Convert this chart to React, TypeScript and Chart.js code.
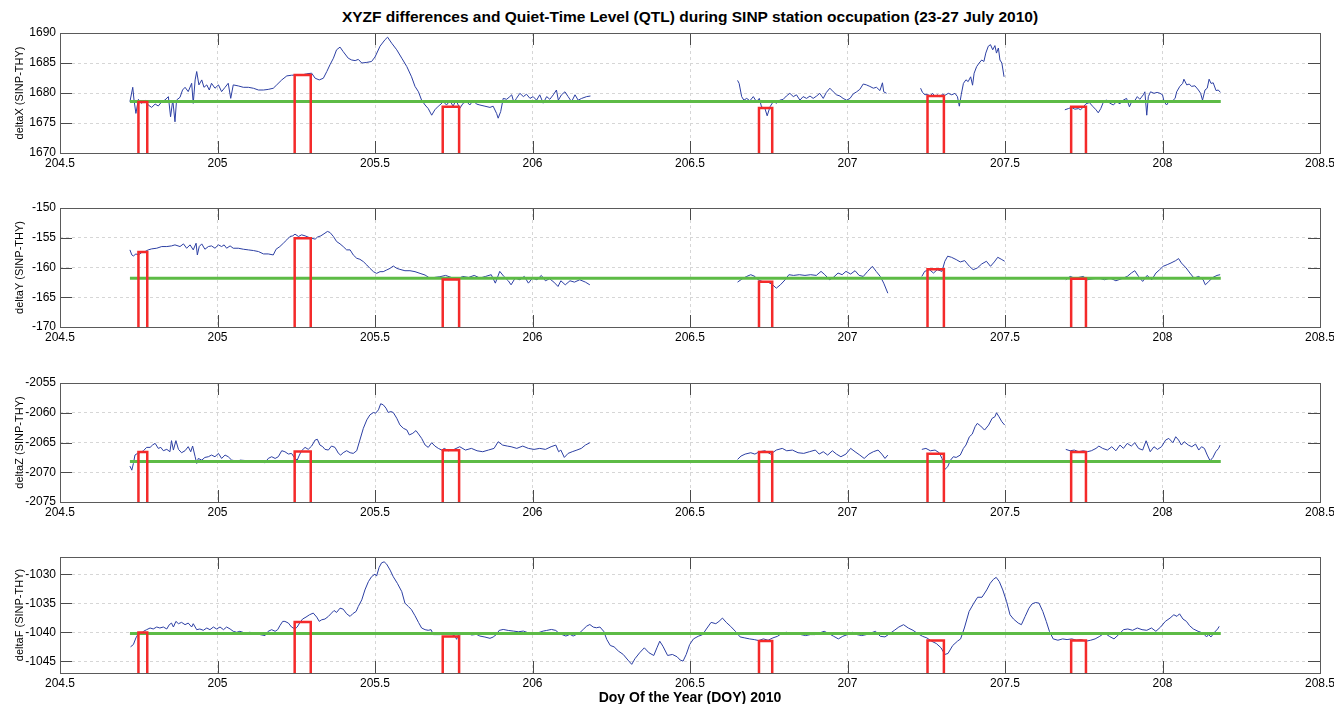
import React, { useEffect, useRef } from 'react';
import { Chart, registerables } from 'chart.js';

Chart.register(...registerables);

const FONT = 'Arial, "Liberation Sans", Helvetica, sans-serif';

// ---- axis ticks ----
const xTicks = [204.5, 205, 205.5, 206, 206.5, 207, 207.5, 208, 208.5];
const yTicksX = [1670, 1675, 1680, 1685, 1690];
const yTicksY = [-170, -165, -160, -155, -150];
const yTicksZ = [-2075, -2070, -2065, -2060, -2055];
const yTicksF = [-1045, -1040, -1035, -1030];

// ---- QTL windows (red pulses) ----
const pulseStart = [204.749, 205.245, 205.715, 206.719, 207.254, 207.71];
const pulseEnd = [204.777, 205.296, 205.767, 206.761, 207.306, 207.757];
const pulseLevelX = [1678.5, 1683.0, 1677.7, 1677.5, 1679.5, 1677.7];
const pulseLevelY = [-157.4, -155.1, -162.0, -162.4, -160.3, -161.9];
const pulseLevelZ = [-2066.6, -2066.5, -2066.3, -2066.6, -2066.9, -2066.6];
const pulseLevelF = [-1040.0, -1038.2, -1040.7, -1041.5, -1041.4, -1041.4];

// ---- Quiet-Time Level (green) ----
const qtlSpan = [204.722, 208.185];
const qtlX = 1678.6;
const qtlY = -161.8;
const qtlZ = -2068.2;
const qtlF = -1040.2;

// ---- differences SINP-THY: [DOY, value]; [DOY, null] = data gap ----
const deltaX = [
  [204.722, 1678.55], [204.731, 1680.95], [204.735, 1678.83], [204.741, 1676.6], [204.749, 1678.94],
  [204.759, 1678.27], [204.77, 1678.83], [204.78, 1678.0], [204.791, 1677.6], [204.802, 1678.16],
  [204.812, 1677.83], [204.823, 1678.55], [204.833, 1678.83], [204.844, 1679.39], [204.851, 1676.04],
  [204.858, 1678.83], [204.865, 1675.2], [204.87, 1678.83], [204.881, 1679.28], [204.889, 1680.5],
  [204.897, 1680.95], [204.907, 1680.23], [204.918, 1681.62], [204.923, 1678.27], [204.929, 1682.18],
  [204.934, 1683.58], [204.941, 1681.35], [204.95, 1682.18], [204.957, 1680.95], [204.966, 1681.35],
  [204.974, 1680.5], [204.981, 1681.62], [204.992, 1680.79], [205.003, 1681.35], [205.013, 1680.23],
  [205.024, 1680.95], [205.034, 1681.62], [205.042, 1679.11], [205.05, 1681.35], [205.066, 1681.18],
  [205.082, 1680.95], [205.098, 1680.95], [205.114, 1680.79], [205.13, 1680.5], [205.146, 1680.5],
  [205.161, 1680.6], [205.177, 1680.79], [205.188, 1681.35], [205.204, 1682.18], [205.22, 1682.85],
  [205.235, 1682.96], [205.251, 1683.0], [205.267, 1683.0], [205.283, 1683.2], [205.299, 1683.3],
  [205.31, 1682.46], [205.323, 1682.18], [205.336, 1682.46], [205.347, 1683.58], [205.357, 1684.7],
  [205.368, 1685.8], [205.378, 1687.2], [205.389, 1687.65], [205.399, 1686.9], [205.415, 1685.8],
  [205.426, 1685.5], [205.437, 1685.4], [205.447, 1685.6], [205.458, 1685.0], [205.474, 1685.1],
  [205.489, 1685.25], [205.5, 1686.0], [205.516, 1687.8], [205.532, 1688.9], [205.54, 1689.3],
  [205.553, 1688.3], [205.569, 1687.2], [205.585, 1685.8], [205.601, 1684.4], [205.616, 1682.7],
  [205.627, 1681.1], [205.638, 1680.2], [205.648, 1678.8], [205.659, 1678.0], [205.669, 1677.4],
  [205.68, 1676.3], [205.69, 1677.2], [205.701, 1677.8], [205.706, 1678.0], [205.717, 1678.55],
  [205.727, 1678.0], [205.738, 1678.7], [205.748, 1677.8], [205.757, 1678.8], [205.769, 1677.44],
  [205.78, 1678.3], [205.791, 1678.55], [205.801, 1678.0], [205.812, 1678.8], [205.822, 1678.16],
  [205.833, 1678.0], [205.849, 1677.8], [205.865, 1677.6], [205.875, 1677.8], [205.886, 1676.6],
  [205.891, 1675.8], [205.899, 1676.9], [205.907, 1679.1], [205.918, 1678.95], [205.928, 1679.4],
  [205.934, 1679.7], [205.941, 1678.4], [205.949, 1679.1], [205.96, 1679.95], [205.971, 1679.4],
  [205.981, 1679.8], [205.992, 1679.1], [206.002, 1679.4], [206.013, 1678.8], [206.023, 1679.7],
  [206.034, 1678.3], [206.045, 1679.4], [206.055, 1678.95], [206.066, 1679.7], [206.076, 1680.5],
  [206.082, 1678.8], [206.092, 1679.7], [206.103, 1680.2], [206.113, 1679.4], [206.124, 1678.55],
  [206.135, 1679.7], [206.145, 1678.8], [206.156, 1679.1], [206.172, 1679.4], [206.184, 1679.5],
  [206.4, null],
  [206.651, 1682.1], [206.656, 1681.6], [206.664, 1679.4], [206.671, 1678.8], [206.68, 1679.1],
  [206.69, 1678.7], [206.701, 1679.4], [206.711, 1678.55], [206.72, 1679.1], [206.727, 1677.7],
  [206.738, 1677.4], [206.745, 1676.2], [206.754, 1677.7], [206.764, 1678.55], [206.775, 1678.3],
  [206.785, 1678.8], [206.796, 1678.95], [206.806, 1679.5], [206.817, 1679.95], [206.828, 1679.4],
  [206.838, 1679.7], [206.849, 1678.8], [206.859, 1679.4], [206.87, 1679.1], [206.881, 1679.5],
  [206.891, 1679.1], [206.902, 1679.5], [206.912, 1679.95], [206.923, 1679.1], [206.933, 1680.1],
  [206.944, 1680.8], [206.955, 1680.2], [206.965, 1679.7], [206.976, 1679.5], [206.986, 1679.1],
  [206.997, 1678.8], [207.008, 1679.1], [207.018, 1679.84], [207.029, 1680.2], [207.039, 1680.6],
  [207.05, 1681.5], [207.06, 1681.35], [207.071, 1681.1], [207.082, 1680.8], [207.092, 1680.95],
  [207.103, 1680.4], [207.111, 1681.7], [207.115, 1680.2], [207.124, 1679.95],
  [207.18, null],
  [207.232, 1680.8], [207.238, 1680.1], [207.246, 1679.7], [207.253, 1679.8], [207.262, 1679.5],
  [207.27, 1679.95], [207.278, 1679.4], [207.285, 1679.7], [207.293, 1679.4], [207.302, 1679.8],
  [207.309, 1679.6], [207.32, 1679.95], [207.331, 1679.7], [207.341, 1679.95], [207.349, 1679.4],
  [207.355, 1677.8], [207.361, 1679.7], [207.368, 1681.6], [207.376, 1682.2], [207.383, 1681.9],
  [207.391, 1682.7], [207.397, 1681.3], [207.402, 1683.3], [207.41, 1684.4], [207.418, 1685.0],
  [207.426, 1685.5], [207.433, 1685.25], [207.439, 1686.65], [207.447, 1687.8], [207.454, 1688.05],
  [207.461, 1687.2], [207.468, 1687.9], [207.473, 1686.65], [207.479, 1687.5], [207.484, 1685.5],
  [207.49, 1685.0], [207.497, 1682.7],
  [207.6, null],
  [207.69, 1677.2], [207.701, 1677.4], [207.711, 1677.6], [207.722, 1677.3], [207.733, 1677.4],
  [207.74, 1677.2], [207.749, 1677.7], [207.757, 1678.2], [207.768, 1678.4], [207.778, 1677.8],
  [207.789, 1677.2], [207.796, 1676.7], [207.804, 1677.4], [207.814, 1678.7], [207.823, 1678.8],
  [207.833, 1678.3], [207.844, 1678.0], [207.854, 1678.55], [207.865, 1678.2], [207.875, 1678.8],
  [207.886, 1679.1], [207.895, 1677.7], [207.902, 1678.55], [207.913, 1678.8], [207.92, 1679.4],
  [207.928, 1678.95], [207.939, 1679.7], [207.944, 1680.2], [207.95, 1676.3], [207.955, 1679.4],
  [207.962, 1680.2], [207.973, 1679.95], [207.983, 1680.1], [207.992, 1679.95], [208.0, 1679.7],
  [208.005, 1678.55], [208.013, 1678.0], [208.022, 1678.7], [208.029, 1678.55], [208.04, 1679.1],
  [208.045, 1680.2], [208.055, 1681.1], [208.064, 1681.6], [208.068, 1682.3], [208.077, 1681.35],
  [208.085, 1681.5], [208.092, 1681.1], [208.103, 1681.2], [208.114, 1680.5], [208.121, 1679.95],
  [208.127, 1678.8], [208.135, 1680.5], [208.142, 1680.8], [208.148, 1682.3], [208.154, 1681.6],
  [208.161, 1681.7], [208.17, 1680.4], [208.177, 1680.5], [208.184, 1680.1],
];

const deltaY = [
  [204.722, -157.04], [204.728, -157.89], [204.733, -158.06], [204.741, -157.72], [204.749, -157.89],
  [204.759, -157.49], [204.77, -157.32], [204.78, -157.04], [204.791, -156.87], [204.807, -156.76],
  [204.823, -156.48], [204.839, -156.48], [204.854, -156.37], [204.865, -156.2], [204.881, -156.48],
  [204.892, -156.03], [204.902, -156.76], [204.913, -156.2], [204.923, -157.04], [204.932, -155.92],
  [204.936, -157.89], [204.942, -156.48], [204.95, -156.03], [204.96, -156.93], [204.971, -156.48],
  [204.981, -156.37], [204.992, -156.76], [205.003, -156.2], [205.013, -156.48], [205.021, -156.2],
  [205.029, -156.76], [205.04, -156.37], [205.05, -156.76], [205.066, -156.76], [205.082, -156.93],
  [205.098, -157.04], [205.114, -157.15], [205.13, -157.32], [205.146, -157.72], [205.161, -157.72],
  [205.177, -157.89], [205.186, -156.93], [205.198, -156.48], [205.209, -155.92], [205.22, -155.35],
  [205.23, -154.79], [205.239, -154.68], [205.246, -154.39], [205.257, -154.79], [205.267, -154.51],
  [205.278, -154.68], [205.288, -154.9], [205.299, -155.07], [205.31, -155.24], [205.317, -154.9],
  [205.328, -154.68], [205.338, -154.34], [205.349, -153.94], [205.357, -154.11], [205.368, -154.79],
  [205.378, -155.63], [205.389, -156.03], [205.399, -156.48], [205.41, -157.04], [205.421, -157.04],
  [205.431, -157.89], [205.442, -158.45], [205.452, -158.62], [205.463, -159.01], [205.474, -159.58],
  [205.484, -160.14], [205.495, -160.7], [205.505, -160.99], [205.516, -160.7], [205.526, -160.7],
  [205.537, -160.42], [205.548, -160.14], [205.558, -159.75], [205.569, -160.14], [205.579, -160.31],
  [205.595, -160.54], [205.611, -160.54], [205.627, -160.7], [205.643, -160.99], [205.659, -161.27],
  [205.675, -161.83], [205.69, -161.66], [205.706, -161.55], [205.724, -161.33], [205.742, -161.67],
  [205.76, -162.06], [205.778, -161.5], [205.797, -161.67], [205.815, -161.33], [205.833, -161.78],
  [205.851, -161.5], [205.869, -161.21], [205.882, -162.63], [205.896, -160.65], [205.909, -161.5],
  [205.923, -162.23], [205.932, -162.91], [205.945, -161.78], [205.96, -162.06], [205.974, -161.5],
  [205.987, -162.63], [206.0, -161.78], [206.014, -162.06], [206.028, -161.33], [206.041, -162.23],
  [206.054, -161.89], [206.068, -162.46], [206.081, -163.19], [206.09, -162.23], [206.104, -162.91],
  [206.119, -162.23], [206.133, -162.46], [206.15, -162.06], [206.168, -162.46], [206.182, -162.91],
  [206.4, null],
  [206.651, -162.46], [206.666, -161.89], [206.68, -161.5], [206.693, -161.21], [206.706, -161.5],
  [206.716, -162.06], [206.729, -162.34], [206.747, -162.46], [206.76, -162.8], [206.774, -163.47],
  [206.787, -162.91], [206.802, -162.06], [206.814, -161.21], [206.829, -161.33], [206.847, -161.21],
  [206.865, -161.33], [206.883, -161.21], [206.901, -161.33], [206.916, -160.65], [206.928, -161.21],
  [206.943, -162.06], [206.955, -161.67], [206.97, -160.93], [206.983, -161.21], [206.995, -160.65],
  [207.01, -161.1], [207.024, -160.54], [207.037, -161.33], [207.05, -161.5], [207.064, -160.65],
  [207.079, -159.8], [207.091, -160.65], [207.104, -161.5], [207.115, -162.63], [207.128, -164.32],
  [207.18, null],
  [207.236, -161.5], [207.245, -160.65], [207.26, -160.37], [207.273, -160.93], [207.285, -160.37],
  [207.3, -160.65], [207.309, -158.95], [207.318, -158.1], [207.33, -158.28], [207.345, -158.67],
  [207.358, -159.07], [207.372, -158.84], [207.387, -159.8], [207.399, -160.37], [207.412, -160.08],
  [207.426, -159.41], [207.441, -158.95], [207.454, -159.8], [207.466, -159.07], [207.477, -158.28],
  [207.49, -158.67], [207.499, -158.95],
  [207.6, null],
  [207.693, -162.06], [207.707, -161.5], [207.72, -161.78], [207.734, -161.67], [207.749, -161.5],
  [207.761, -162.06], [207.78, -161.89], [207.798, -161.78], [207.816, -162.06], [207.834, -161.78],
  [207.852, -162.23], [207.87, -161.89], [207.888, -161.5], [207.901, -160.93], [207.912, -160.54],
  [207.924, -161.5], [207.937, -162.34], [207.951, -161.33], [207.966, -162.06], [207.979, -160.93],
  [207.991, -160.37], [208.002, -159.8], [208.015, -159.52], [208.027, -159.24], [208.042, -158.84],
  [208.051, -158.5], [208.06, -159.24], [208.075, -160.08], [208.087, -160.93], [208.1, -161.78],
  [208.115, -161.5], [208.129, -162.06], [208.136, -162.91], [208.147, -162.34], [208.16, -161.67],
  [208.173, -161.33], [208.183, -161.21],
];

const deltaZ = [
  [204.722, -2068.97], [204.728, -2069.65], [204.733, -2068.52], [204.738, -2067.11], [204.746, -2066.83],
  [204.754, -2066.72], [204.765, -2066.38], [204.775, -2065.82], [204.786, -2065.82], [204.794, -2065.42],
  [204.802, -2065.14], [204.812, -2065.99], [204.82, -2065.82], [204.828, -2066.38], [204.839, -2066.15],
  [204.849, -2066.55], [204.854, -2064.69], [204.86, -2066.27], [204.868, -2064.69], [204.876, -2066.15],
  [204.886, -2066.72], [204.897, -2066.38], [204.907, -2065.7], [204.915, -2066.55], [204.921, -2065.59],
  [204.929, -2067.39], [204.934, -2068.52], [204.939, -2067.68], [204.95, -2067.96], [204.96, -2067.51],
  [204.971, -2067.39], [204.981, -2067.11], [204.992, -2067.39], [205.003, -2066.83], [205.013, -2067.68],
  [205.024, -2067.11], [205.034, -2067.39], [205.045, -2067.96], [205.056, -2068.07], [205.066, -2068.24],
  [205.071, -2067.96], [205.098, -2068.07], [205.114, -2068.07], [205.13, -2068.13], [205.151, -2068.41],
  [205.161, -2067.68], [205.172, -2067.39], [205.183, -2067.68], [205.193, -2067.39], [205.204, -2066.38],
  [205.214, -2066.55], [205.225, -2066.94], [205.235, -2066.83], [205.246, -2067.68], [205.253, -2067.96],
  [205.26, -2067.11], [205.267, -2066.38], [205.278, -2065.82], [205.288, -2066.15], [205.299, -2065.59],
  [205.31, -2064.58], [205.317, -2064.46], [205.325, -2065.42], [205.334, -2065.7], [205.341, -2066.15],
  [205.352, -2066.27], [205.362, -2065.59], [205.373, -2065.82], [205.384, -2066.83], [205.391, -2067.11],
  [205.399, -2066.72], [205.41, -2066.38], [205.421, -2066.72], [205.431, -2066.83], [205.442, -2066.38],
  [205.452, -2064.58], [205.463, -2062.61], [205.474, -2061.2], [205.484, -2060.35], [205.495, -2059.96],
  [205.502, -2060.07], [205.511, -2059.51], [205.518, -2058.49], [205.526, -2058.66], [205.535, -2059.23],
  [205.542, -2059.96], [205.55, -2059.79], [205.558, -2059.96], [205.569, -2060.92], [205.579, -2062.04],
  [205.59, -2062.61], [205.601, -2062.89], [205.609, -2063.73], [205.62, -2063.45], [205.63, -2063.0],
  [205.638, -2063.56], [205.648, -2064.3], [205.659, -2065.42], [205.669, -2065.82], [205.68, -2065.03],
  [205.69, -2065.59], [205.701, -2065.99], [205.712, -2066.27], [205.72, -2065.99], [205.733, -2066.39],
  [205.751, -2066.16], [205.769, -2065.71], [205.787, -2066.27], [205.806, -2065.99], [205.824, -2066.39],
  [205.842, -2066.55], [205.86, -2066.27], [205.878, -2065.99], [205.891, -2064.87], [205.905, -2065.43],
  [205.92, -2065.6], [205.932, -2065.71], [205.95, -2065.99], [205.969, -2065.6], [205.987, -2065.99],
  [206.005, -2066.16], [206.023, -2065.99], [206.041, -2066.16], [206.059, -2065.71], [206.074, -2065.43],
  [206.083, -2066.55], [206.09, -2066.27], [206.101, -2067.51], [206.113, -2066.83], [206.126, -2066.55],
  [206.141, -2066.27], [206.155, -2065.99], [206.168, -2065.43], [206.182, -2065.04],
  [206.4, null],
  [206.651, -2067.84], [206.662, -2067.28], [206.675, -2066.95], [206.693, -2066.72], [206.706, -2066.95],
  [206.72, -2066.55], [206.738, -2066.39], [206.756, -2066.95], [206.774, -2066.27], [206.793, -2065.99],
  [206.807, -2066.39], [206.825, -2066.27], [206.843, -2066.72], [206.861, -2066.83], [206.879, -2066.55],
  [206.898, -2066.27], [206.91, -2066.95], [206.923, -2066.55], [206.937, -2067.11], [206.952, -2066.39],
  [206.965, -2066.95], [206.979, -2067.39], [206.995, -2066.95], [207.01, -2065.99], [207.024, -2066.55],
  [207.039, -2067.11], [207.053, -2067.68], [207.068, -2066.95], [207.082, -2066.55], [207.097, -2066.27],
  [207.109, -2066.95], [207.119, -2067.68], [207.128, -2067.11],
  [207.18, null],
  [207.236, -2066.16], [207.249, -2065.99], [207.263, -2066.39], [207.278, -2066.27], [207.291, -2066.72],
  [207.3, -2067.68], [207.309, -2069.52], [207.318, -2069.08], [207.327, -2067.96], [207.336, -2067.39],
  [207.345, -2067.51], [207.358, -2067.11], [207.368, -2065.99], [207.376, -2065.43], [207.387, -2064.03],
  [207.396, -2063.59], [207.405, -2062.35], [207.412, -2061.79], [207.423, -2062.24], [207.435, -2062.91],
  [207.448, -2062.07], [207.459, -2060.95], [207.468, -2060.67], [207.473, -2060.0], [207.481, -2060.67],
  [207.49, -2061.51], [207.499, -2062.07],
  [207.6, null],
  [207.693, -2066.16], [207.707, -2066.39], [207.72, -2066.27], [207.734, -2066.55], [207.749, -2066.39],
  [207.761, -2066.55], [207.774, -2066.39], [207.789, -2065.99], [207.798, -2065.6], [207.81, -2065.99],
  [207.825, -2066.27], [207.839, -2065.71], [207.852, -2066.39], [207.865, -2065.43], [207.876, -2065.99],
  [207.888, -2065.15], [207.901, -2065.6], [207.912, -2065.04], [207.924, -2065.99], [207.937, -2066.27],
  [207.948, -2064.71], [207.961, -2066.55], [207.973, -2065.71], [207.984, -2066.16], [207.997, -2065.71],
  [208.01, -2064.59], [208.02, -2064.31], [208.033, -2065.04], [208.042, -2064.03], [208.051, -2064.59],
  [208.06, -2065.43], [208.069, -2064.87], [208.082, -2065.43], [208.093, -2065.71], [208.105, -2065.27],
  [208.115, -2066.27], [208.124, -2065.71], [208.133, -2065.99], [208.142, -2067.11], [208.151, -2068.07],
  [208.16, -2067.51], [208.169, -2066.55], [208.178, -2065.99], [208.183, -2065.43],
];

const deltaF = [
  [204.724, -1042.49], [204.733, -1042.09], [204.741, -1040.95], [204.749, -1040.21], [204.756, -1040.38],
  [204.765, -1039.81], [204.775, -1039.53], [204.786, -1039.24], [204.796, -1039.41], [204.807, -1039.07],
  [204.817, -1039.24], [204.828, -1039.07], [204.839, -1039.41], [204.847, -1038.67], [204.854, -1038.39],
  [204.86, -1039.07], [204.868, -1038.1], [204.876, -1038.5], [204.886, -1038.27], [204.897, -1038.67],
  [204.907, -1038.39], [204.918, -1039.07], [204.923, -1038.5], [204.934, -1039.53], [204.944, -1039.41],
  [204.955, -1039.64], [204.966, -1039.24], [204.976, -1039.53], [204.987, -1039.07], [204.997, -1039.41],
  [205.008, -1039.07], [205.019, -1039.53], [205.029, -1039.07], [205.04, -1039.41], [205.05, -1039.81],
  [205.061, -1039.98], [205.071, -1039.81], [205.087, -1040.1], [205.103, -1039.98], [205.119, -1040.21],
  [205.135, -1040.38], [205.151, -1040.55], [205.161, -1039.81], [205.172, -1039.53], [205.183, -1039.81],
  [205.191, -1039.53], [205.198, -1038.84], [205.207, -1038.1], [205.214, -1038.1], [205.225, -1038.39],
  [205.235, -1039.07], [205.246, -1039.41], [205.253, -1039.07], [205.262, -1038.27], [205.27, -1037.7],
  [205.281, -1037.36], [205.292, -1036.96], [205.304, -1036.67], [205.315, -1037.36], [205.323, -1038.1],
  [205.331, -1037.82], [205.341, -1037.7], [205.352, -1037.24], [205.362, -1036.67], [205.37, -1036.22],
  [205.378, -1036.56], [205.389, -1035.82], [205.399, -1035.99], [205.41, -1036.79], [205.421, -1037.24],
  [205.429, -1036.79], [205.44, -1036.39], [205.447, -1035.53], [205.458, -1034.39], [205.468, -1032.68],
  [205.479, -1031.25], [205.489, -1030.4], [205.5, -1029.94], [205.505, -1030.29], [205.513, -1028.8],
  [205.521, -1028.0], [205.529, -1027.83], [205.537, -1028.23], [205.548, -1029.26], [205.558, -1030.4],
  [205.571, -1031.54], [205.585, -1032.97], [205.595, -1034.96], [205.606, -1035.53], [205.616, -1036.1],
  [205.627, -1037.13], [205.638, -1038.27], [205.648, -1039.24], [205.659, -1039.53], [205.669, -1039.64],
  [205.678, -1039.53], [205.685, -1040.38], [205.696, -1040.38], [205.706, -1040.38], [205.717, -1040.34],
  [205.727, -1040.23], [205.743, -1040.34], [205.754, -1040.63], [205.759, -1041.19], [205.764, -1040.51],
  [205.775, -1040.34], [205.785, -1040.34], [205.796, -1040.23], [205.807, -1040.45], [205.822, -1040.34],
  [205.833, -1040.63], [205.849, -1040.8], [205.865, -1041.02], [205.875, -1040.8], [205.886, -1040.34],
  [205.894, -1039.66], [205.907, -1039.49], [205.923, -1039.66], [205.939, -1039.77], [205.955, -1039.89],
  [205.971, -1039.77], [205.986, -1040.06], [206.002, -1040.06], [206.018, -1040.06], [206.034, -1039.77],
  [206.045, -1039.66], [206.06, -1039.49], [206.074, -1039.66], [206.082, -1040.06], [206.092, -1040.34],
  [206.106, -1040.63], [206.119, -1040.34], [206.129, -1040.63], [206.14, -1040.34], [206.15, -1040.06],
  [206.161, -1039.49], [206.172, -1038.92], [206.182, -1038.64], [206.193, -1039.09], [206.203, -1039.2],
  [206.214, -1039.07], [206.226, -1039.81], [206.236, -1041.24], [206.247, -1042.26], [206.259, -1042.49],
  [206.273, -1043.23], [206.288, -1043.8], [206.303, -1044.77], [206.315, -1045.51], [206.325, -1044.55],
  [206.34, -1043.52], [206.355, -1042.66], [206.37, -1043.52], [206.385, -1043.98], [206.395, -1042.66],
  [206.404, -1041.52], [206.414, -1042.38], [206.429, -1043.98], [206.444, -1043.8], [206.459, -1044.2],
  [206.469, -1044.77], [206.478, -1044.95], [206.488, -1043.8], [206.499, -1042.09], [206.511, -1041.12],
  [206.526, -1040.67], [206.54, -1040.38], [206.552, -1039.41], [206.567, -1038.27], [206.582, -1038.5],
  [206.592, -1038.1], [206.603, -1037.53], [206.615, -1038.27], [206.629, -1038.96], [206.644, -1039.81],
  [206.659, -1040.78], [206.674, -1040.95], [206.689, -1041.12], [206.704, -1041.24], [206.718, -1041.41],
  [206.733, -1041.12], [206.748, -1041.35], [206.763, -1040.95], [206.778, -1040.67], [206.793, -1040.1],
  [206.807, -1039.98], [206.822, -1040.21], [206.837, -1040.1], [206.852, -1040.38], [206.867, -1040.55],
  [206.882, -1040.38], [206.896, -1040.38], [206.911, -1040.1], [206.926, -1039.81], [206.941, -1040.21],
  [206.956, -1040.67], [206.971, -1041.12], [206.985, -1040.67], [207.0, -1040.38], [207.015, -1039.98],
  [207.03, -1040.38], [207.045, -1040.55], [207.06, -1040.38], [207.074, -1040.1], [207.089, -1039.81],
  [207.104, -1040.67], [207.119, -1040.78], [207.134, -1040.21], [207.149, -1039.64], [207.163, -1039.07],
  [207.178, -1038.67], [207.193, -1039.24], [207.208, -1039.64], [207.223, -1040.21], [207.238, -1040.67],
  [207.252, -1040.95], [207.267, -1041.52], [207.282, -1041.92], [207.297, -1042.66], [207.309, -1043.8],
  [207.319, -1043.63], [207.334, -1042.26], [207.349, -1041.52], [207.359, -1041.12], [207.371, -1039.24],
  [207.386, -1036.39], [207.401, -1034.96], [207.413, -1033.94], [207.427, -1033.94], [207.442, -1032.68],
  [207.453, -1031.54], [207.463, -1030.86], [207.472, -1030.51], [207.482, -1031.25], [207.493, -1032.68],
  [207.505, -1034.68], [207.516, -1036.96], [207.527, -1037.7], [207.542, -1038.39], [207.552, -1038.67],
  [207.564, -1037.24], [207.576, -1035.82], [207.586, -1035.08], [207.597, -1034.85], [207.608, -1034.96],
  [207.62, -1036.39], [207.631, -1038.1], [207.641, -1039.81], [207.653, -1041.12], [207.668, -1041.35],
  [207.683, -1041.12], [207.697, -1041.24], [207.712, -1041.12], [207.727, -1041.35], [207.742, -1041.24],
  [207.757, -1041.52], [207.772, -1041.35], [207.786, -1041.12], [207.801, -1040.67], [207.816, -1040.1],
  [207.831, -1040.67], [207.846, -1041.12], [207.861, -1040.38], [207.876, -1039.53], [207.89, -1039.41],
  [207.905, -1039.64], [207.92, -1039.24], [207.935, -1039.53], [207.95, -1039.64], [207.965, -1039.24],
  [207.979, -1039.81], [207.994, -1039.07], [208.009, -1038.1], [208.024, -1037.53], [208.036, -1036.96],
  [208.046, -1037.24], [208.054, -1036.79], [208.065, -1037.7], [208.076, -1038.1], [208.086, -1038.84],
  [208.098, -1039.41], [208.113, -1039.81], [208.128, -1040.1], [208.14, -1040.78], [208.146, -1040.38],
  [208.154, -1040.78], [208.165, -1039.98], [208.175, -1039.41], [208.18, -1038.96],
];

const TITLE = 'XYZF differences and Quiet-Time Level (QTL) during SINP station occupation (23-27 July 2010)';
const XLABEL = 'Doy Of the Year (DOY) 2010';

const PANELS = [
  { key: 'X', series: deltaX, qtl: qtlX, pulses: pulseLevelX, min: 1670, max: 1690, ticks: yTicksX, label: 'deltaX (SINP-THY)', top: 33, height: 120 },
  { key: 'Y', series: deltaY, qtl: qtlY, pulses: pulseLevelY, min: -170, max: -150, ticks: yTicksY, label: 'deltaY (SINP-THY)', top: 208, height: 119 },
  { key: 'Z', series: deltaZ, qtl: qtlZ, pulses: pulseLevelZ, min: -2075, max: -2055, ticks: yTicksZ, label: 'deltaZ (SINP-THY)', top: 383, height: 119 },
  { key: 'F', series: deltaF, qtl: qtlF, pulses: pulseLevelF, min: -1047, max: -1027, ticks: yTicksF, label: 'deltaF (SINP-THY)', top: 557, height: 116 },
];

const W = 1334;
const PAD_TOP = 20;
const XAXIS_H = 30;
const LEFT_W = 60;
const RIGHT_PAD = 14;
const TICK_LEN = 12;

const boxPlugin = {
  id: 'matlabBox',
  afterDraw(chart: any) {
    const { ctx, chartArea: a, scales } = chart;
    const xs = scales.x;
    const ys = scales.y;
    ctx.save();
    ctx.strokeStyle = '#4a4a4a';
    ctx.lineWidth = 1;
    ctx.setLineDash([]);
    ctx.beginPath();
    for (const v of xTicks) {
      const px = Math.round(xs.getPixelForValue(v)) + 0.5;
      ctx.moveTo(px, a.bottom);
      ctx.lineTo(px, a.bottom - TICK_LEN);
      ctx.moveTo(px, a.top);
      ctx.lineTo(px, a.top + TICK_LEN);
    }
    for (const t of ys.ticks) {
      const py = Math.round(ys.getPixelForValue(t.value)) + 0.5;
      ctx.moveTo(a.left, py);
      ctx.lineTo(a.left + TICK_LEN, py);
      ctx.moveTo(a.right, py);
      ctx.lineTo(a.right - TICK_LEN, py);
    }
    ctx.stroke();
    ctx.strokeStyle = '#5a5a5a';
    ctx.strokeRect(a.left + 0.5, a.top + 0.5, a.right - a.left, a.bottom - a.top);
    ctx.restore();
  },
};

function Panel({ cfg }: { cfg: any }) {
  const ref = useRef<HTMLCanvasElement | null>(null);
  const canvasH = PAD_TOP + cfg.height + XAXIS_H;

  useEffect(() => {
    if (!ref.current) return;
    const seriesData = cfg.series.map((p: any) => ({ x: p[0], y: p[1] }));
    const pulseData: any[] = [];
    pulseStart.forEach((s, i) => {
      const e = pulseEnd[i];
      const lvl = cfg.pulses[i];
      pulseData.push({ x: s, y: cfg.min }, { x: s, y: lvl }, { x: e, y: lvl }, { x: e, y: cfg.min }, { x: e, y: null });
    });
    const qtlData = [
      { x: qtlSpan[0], y: cfg.qtl },
      { x: qtlSpan[1], y: cfg.qtl },
    ];
    const tickFont = { family: FONT, size: 12 };
    const chart = new Chart(ref.current, {
      type: 'line',
      data: {
        datasets: [
          { label: 'QTL window', data: pulseData, borderColor: '#F42A2A', borderWidth: 2.5, pointRadius: 0, order: 0, spanGaps: false, tension: 0 },
          { label: 'QTL', data: qtlData, borderColor: '#5DBB46', borderWidth: 3, pointRadius: 0, order: 1, tension: 0 },
          { label: 'delta' + cfg.key, data: seriesData, borderColor: '#2C3FA3', borderWidth: 1, pointRadius: 0, order: 2, spanGaps: false, tension: 0 },
        ],
      },
      options: {
        animation: false,
        responsive: false,
        maintainAspectRatio: false,
        events: [],
        layout: { padding: { top: PAD_TOP, right: RIGHT_PAD, left: 0, bottom: 0 } },
        plugins: { legend: { display: false }, tooltip: { enabled: false }, title: { display: false } },
        scales: {
          x: {
            type: 'linear',
            min: 204.5,
            max: 208.5,
            afterBuildTicks: (s: any) => { s.ticks = xTicks.map((v) => ({ value: v })); },
            afterFit: (s: any) => { s.height = XAXIS_H; s.paddingLeft = 0; s.paddingRight = 0; },
            ticks: { autoSkip: false, maxRotation: 0, minRotation: 0, padding: 3, color: '#000', font: tickFont, callback: (v: any) => String(v) },
            grid: { color: '#d6d6d6', lineWidth: 1, drawTicks: false },
            border: { display: false, dash: [3, 3] },
          },
          y: {
            type: 'linear',
            min: cfg.min,
            max: cfg.max,
            afterBuildTicks: (s: any) => { s.ticks = cfg.ticks.map((v: number) => ({ value: v })); },
            afterFit: (s: any) => { s.width = LEFT_W; s.paddingTop = 0; s.paddingBottom = 0; },
            ticks: { autoSkip: false, padding: 4, color: '#000', font: tickFont, callback: (v: any) => String(v) },
            grid: { color: '#d6d6d6', lineWidth: 1, drawTicks: false },
            border: { display: false, dash: [3, 3] },
            title: { display: true, text: cfg.label, color: '#000', font: { family: FONT, size: 11 }, padding: { top: 13, bottom: 0 } },
          },
        },
      },
      plugins: [boxPlugin],
    } as any);
    return () => chart.destroy();
  }, []);

  return (
    <canvas
      ref={ref}
      width={W}
      height={canvasH}
      style={{ position: 'absolute', left: 0, top: cfg.top - PAD_TOP, width: W, height: canvasH, display: 'block' }}
    />
  );
}

export default function App() {
  return (
    <div style={{ position: 'absolute', left: 0, top: 0, width: W, height: 704, background: '#fff', overflow: 'hidden', fontFamily: FONT }}>
      <div style={{ position: 'absolute', left: LEFT_W, width: 1260, top: 8, lineHeight: '18px', textAlign: 'center', fontWeight: 'bold', fontSize: 15.5, color: '#000', whiteSpace: 'nowrap' }}>
        {TITLE}
      </div>
      {PANELS.map((p) => (
        <Panel key={p.key} cfg={p} />
      ))}
      <div style={{ position: 'absolute', left: LEFT_W, width: 1260, top: 689, lineHeight: '16px', textAlign: 'center', fontWeight: 'bold', fontSize: 14, color: '#000', whiteSpace: 'nowrap' }}>
        {XLABEL}
      </div>
    </div>
  );
}
